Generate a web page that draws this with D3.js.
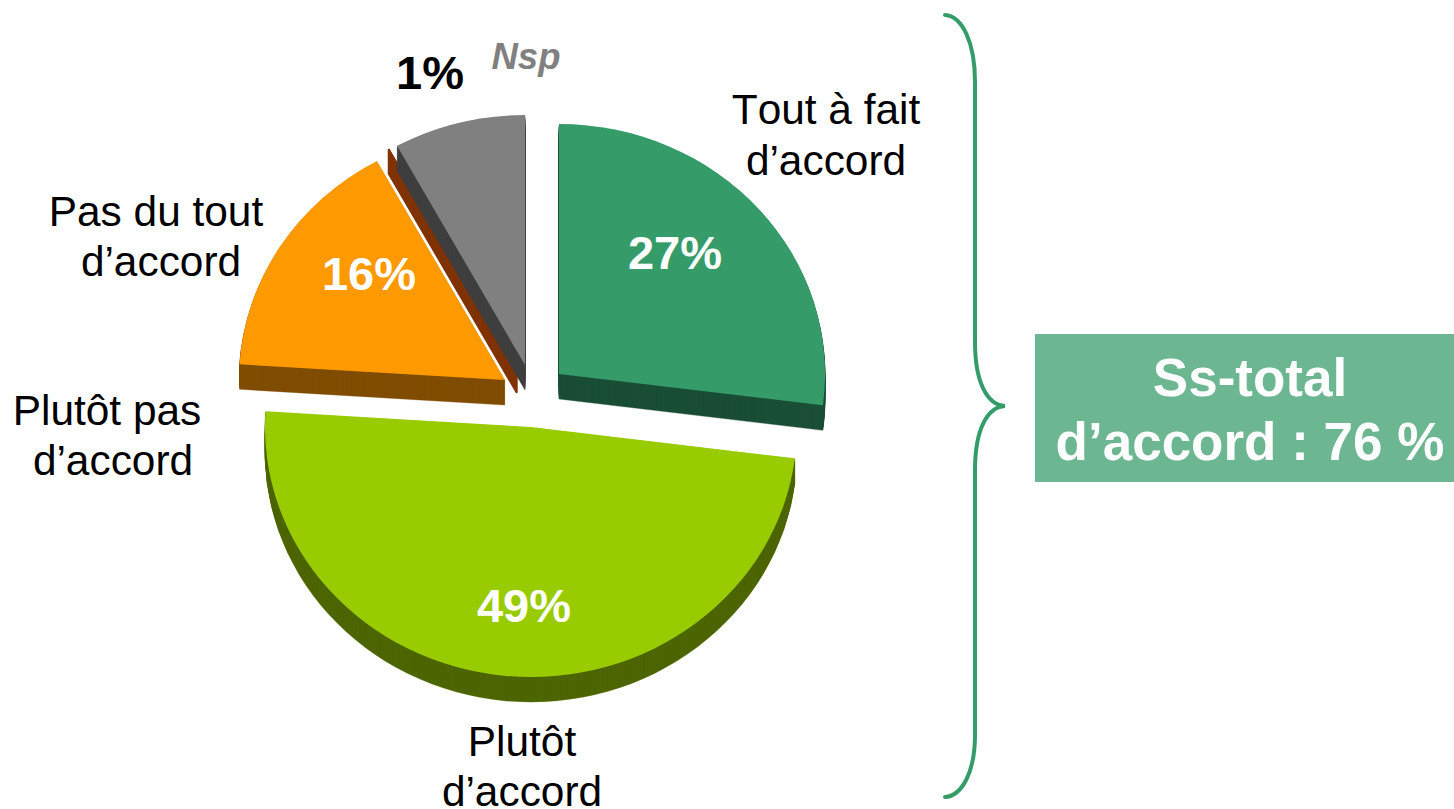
<!DOCTYPE html>
<html>
<head>
<meta charset="utf-8">
<script src="https://cdnjs.cloudflare.com/ajax/libs/d3/7.8.5/d3.min.js"></script>
<style>
html,body{margin:0;padding:0;background:#fff;overflow:hidden}
svg{display:block}
text{font-family:"Liberation Sans",Arial,sans-serif;font-kerning:none}
</style>
</head>
<body>
<svg id="chart" width="1454" height="809"></svg>
<script>
// Data
const categories = ["Tout à fait d’accord","Plutôt d’accord","Pas du tout d’accord","Plutôt pas d’accord","Nsp"];
const sliceValues = [27,49,16,0.01,7.99];
const valueLabels = ["27%","49%","16%","1%"];
const subtotalLines = ["Ss-total","d’accord : 76 %"];

// Styles and layout, separate from the data
const topColors  = ["#359C69","#99CC00","#FF9900","#803300","#808080"];
const wallColors = ["#1B4F37","#4D6600","#804D00","#803300","#404040"];
const wallStrokes = [0.4,0.4,0.4,2,0.4];
const sliceCentres = [[559,374],[531,427],[505,380],[517,368],[525,365]];
const rx = 266, ry = 250, depth = 25;

const categoryText = [
  {lines:["Tout à fait","d’accord"], x:[826,826], y:[124,175]},
  {lines:["Plutôt","d’accord"], x:[522,522], y:[756,806]},
  {lines:["Pas du tout","d’accord"], x:[156,161], y:[226,276]},
  {lines:["Plutôt pas","d’accord"], x:[107,113], y:[425,475]}
];
const valueText = [
  {x:675,y:269,fill:"#fff"},
  {x:524,y:622,fill:"#fff"},
  {x:369,y:290,fill:"#fff"},
  {x:430,y:89,fill:"#000"}
];

const svg = d3.select("#chart");
const pie = d3.pie().sort(null).value(d=>d);
const arcs = pie(sliceValues);
const arc = d3.arc().innerRadius(0).outerRadius(rx);
const drawOrder = [3,4,2,0,1];

drawOrder.forEach(i=>{
  const [cx,cy] = sliceCentres[i];
  const g = svg.append("g").attr("class","slice");
  g.selectAll("path.wall").data(d3.range(depth,0,-1)).join("path")
    .attr("class","wall")
    .attr("d",arc(arcs[i]))
    .attr("fill",wallColors[i])
    .attr("stroke",wallColors[i]).attr("stroke-width",wallStrokes[i])
    .attr("transform",k=>`translate(${cx},${cy+k}) scale(1,${ry/rx})`);
  g.append("path")
    .attr("d",arc(arcs[i]))
    .attr("fill",topColors[i])
    .attr("transform",`translate(${cx},${cy}) scale(1,${ry/rx})`);
});

// Category labels
categoryText.forEach(c=>{
  c.lines.forEach((t,j)=>{
    svg.append("text").attr("x",c.x[j]).attr("y",c.y[j])
      .attr("text-anchor","middle").attr("font-size",42.4).attr("fill","#000").text(t);
  });
});

// Value labels
svg.selectAll("text.val").data(valueLabels).join("text")
  .attr("class","val")
  .attr("x",(d,i)=>valueText[i].x).attr("y",(d,i)=>valueText[i].y)
  .attr("text-anchor","middle").attr("font-size",47).attr("font-weight","bold")
  .attr("fill",(d,i)=>valueText[i].fill).text(d=>d);

svg.append("text").attr("x",526).attr("y",69).attr("text-anchor","middle")
  .attr("font-size",36.5).attr("font-weight","bold").attr("font-style","italic")
  .attr("fill","#808080").text(categories[4]);

// Brace
const brace = d3.path();
brace.moveTo(945,15);
brace.bezierCurveTo(962,16,975,42,975,82);
brace.lineTo(975,342);
brace.bezierCurveTo(975,382,987,405,1005,406);
brace.bezierCurveTo(987,407,975,430,975,470);
brace.lineTo(975,735);
brace.bezierCurveTo(975,772,962,796,945,797);
svg.append("path").attr("d",brace.toString()).attr("fill","none")
  .attr("stroke","#359C69").attr("stroke-width",4).attr("stroke-linecap","round");

// Subtotal box
svg.append("rect").attr("x",1035).attr("y",334).attr("width",419).attr("height",148).attr("fill","#6DB692");
svg.selectAll("text.sub").data(subtotalLines).join("text")
  .attr("class","sub")
  .attr("x",1250).attr("y",(d,i)=>i?460:396)
  .attr("text-anchor","middle").attr("font-size",53).attr("font-weight","bold")
  .attr("fill","#fff").text(d=>d);
</script>
</body>
</html>
